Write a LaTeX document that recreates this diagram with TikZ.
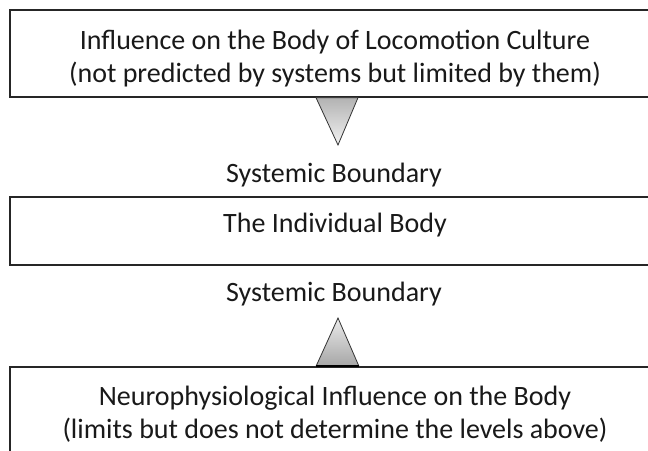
\documentclass[tikz,border=0pt]{standalone}
\usepackage{fontspec}
\setmainfont{Carlito}
\begin{document}
\begin{tikzpicture}[x=1pt,y=-1pt,
  boxnode/.style={draw=black!85,line width=1.3pt,fill=white,minimum width=650pt,inner sep=0pt},
  txt/.style={font=\fontsize{28}{33}\selectfont,align=center,text=black!90,inner sep=0pt},
  lbl/.style={font=\fontsize{28}{33}\selectfont,text=black!90},
  tri/.style={draw=black!80,line width=0.8pt}]
\useasboundingbox (0,0) rectangle (648,450);
\clip (0,0) rectangle (648,450);
\fill[white] (0,0) rectangle (648,450);
\node[boxnode,minimum height=87pt] (top) at (335,53.5) {};
\node[txt] (toptxt) at (335,58.5) {Influence on the Body of Locomotion Culture\\(not predicted by systems but limited by them)};
\node[lbl] (sb1) at (334,175) {Systemic Boundary};
\node[boxnode,minimum height=68pt] (mid) at (335,231) {};
\node[txt] (midtxt) at (335,225.5) {The Individual Body};
\node[lbl] (sb2) at (334,294) {Systemic Boundary};
\node[boxnode,minimum height=90pt] (bot) at (335,412) {};
\node[txt] (bottxt) at (335,414.5) {Neurophysiological Influence on the Body\\(limits but does not determine the levels above)};
\coordinate (t1a) at ([xshift=-22pt]top.south -| 338,0);
\coordinate (t1b) at ([xshift=20pt]top.south -| 338,0);
\coordinate (t1c) at (338,145);
\shade[top color=black!30,bottom color=black!5,tri] (t1a) -- (t1b) -- (t1c) -- cycle;
\coordinate (t2a) at ([xshift=-22pt]bot.north -| 338,0);
\coordinate (t2b) at ([xshift=21pt]bot.north -| 338,0);
\coordinate (t2c) at (338,318);
\shade[top color=black!8,bottom color=black!35,tri] (t2a) -- (t2b) -- (t2c) -- cycle;
\draw[draw=black,line width=2pt] (t2a) -- (t2b);
\end{tikzpicture}
\end{document}
